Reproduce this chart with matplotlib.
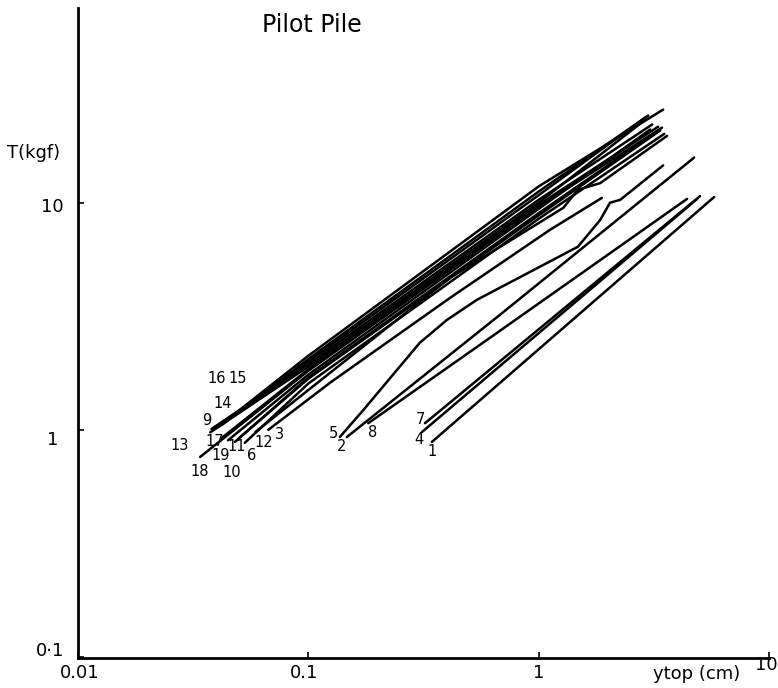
import numpy as np
import matplotlib
matplotlib.use("Agg")
import matplotlib.pyplot as plt

# load-displacement curves, ytop (cm) vs T (kgf)
curves = {
    "16": ([0.0406, 0.1, 1.0, 3.47], [1.03, 2.12, 11.8, 25.7]),
    "15": ([0.042, 0.1, 1.0, 2.99], [1.05, 2.05, 11.2, 24.2]),
    "14": ([0.0394, 0.1, 1.0, 2.90], [1.02, 2.0, 10.8, 23.7]),
    "9":  ([0.038, 0.1, 1.0, 3.11], [1.01, 1.95, 10.3, 22.1]),
    "13": ([0.0375, 0.1, 1.0, 2.76], [0.975, 1.9, 10.0, 22.3]),
    "17": ([0.042, 0.1, 1.0, 3.30], [0.92, 1.85, 9.8, 21.6]),
    "18": ([0.0339, 0.1, 1.0, 3.43], [0.76, 1.82, 9.6, 21.4]),
    "19": ([0.0448, 0.1, 1.0, 3.05], [0.90, 1.75, 9.4, 21.0]),
    "10": ([0.048, 0.1, 1.0, 3.20], [0.885, 1.7, 9.0, 20.3]),
    "11": ([0.05, 0.1, 1.0, 3.37], [0.92, 1.68, 8.8, 20.8]),
    "6":  ([0.053, 0.1, 1.0, 3.51], [0.877, 1.6, 8.5, 20.1]),
    "12": ([0.059, 0.412, 1.28, 1.48, 1.85, 3.61], [0.98, 4.67, 9.5, 11.4, 12.2, 19.7]),
    "3":  ([0.067, 0.124, 0.412, 1.12, 1.88], [1.0, 1.61, 3.81, 7.6, 10.5]),
    "5":  ([0.137, 0.173, 0.243, 0.305, 0.40, 0.54, 1.48, 1.85, 2.04, 2.26, 3.47],
           [0.93, 1.22, 1.84, 2.42, 3.05, 3.74, 6.4, 8.4, 10.0, 10.3, 14.6]),
    "2":  ([0.147, 0.679, 4.73], [0.93, 3.21, 15.8]),
    "8":  ([0.182, 0.679, 4.41], [1.07, 2.73, 10.4]),
    "7":  ([0.321, 5.02], [1.07, 10.7]),
    "4":  ([0.312, 4.88], [0.98, 10.4]),
    "1":  ([0.344, 5.78], [0.885, 10.6]),
}

# curve number labels (x, y) in data units
label_pos = {
    "16": (0.0402, 1.68), "15": (0.0495, 1.68), "14": (0.0426, 1.30),
    "9": (0.0363, 1.095), "13": (0.0277, 0.85), "17": (0.0392, 0.885),
    "19": (0.0418, 0.768), "18": (0.0339, 0.659), "10": (0.0467, 0.647),
    "11": (0.0488, 0.845), "6": (0.0568, 0.77), "12": (0.0640, 0.877),
    "3": (0.0750, 0.951), "5": (0.128, 0.96), "2": (0.139, 0.841),
    "8": (0.191, 0.97), "7": (0.308, 1.107), "4": (0.303, 0.91),
    "1": (0.344, 0.80),
}

xticks = [0.01, 0.1, 1, 10]
xtick_labels = ["0.01", "0.1", "1", "10"]
yticks = [0.1, 1, 10]
ytick_labels = ["0\u00b71", "1", "10"]

fig = plt.figure(figsize=(7.78, 6.88), dpi=100)
ax = fig.add_axes([78 / 778, 30 / 688, 691 / 778, 650 / 688])

for name, (xs, ys) in curves.items():
    ax.plot(xs, ys, color="black", lw=1.8, solid_capstyle="round",
            solid_joinstyle="round")

for name, (x, y) in label_pos.items():
    ax.text(x, y, name, fontsize=10.5, ha="center", va="center")

ax.set_xscale("log")
ax.set_yscale("log")
ax.set_xlim(0.01, 10)
ax.set_ylim(0.099, 72)
ax.minorticks_off()
ax.set_xticks(xticks)
ax.set_yticks(yticks)
ax.tick_params(direction="in", length=4, width=1.2,
               labelbottom=False, labelleft=False)
for s in ["top", "right"]:
    ax.spines[s].set_visible(False)
for s in ["left", "bottom"]:
    ax.spines[s].set_linewidth(2)

# tick labels placed by hand, as on the original drawing
xoff = [(2, -15), (-4, -15), (0, -15), (-3, -7)]
for t, lab, (dx, dy) in zip(xticks, xtick_labels, xoff):
    ax.annotate(lab, xy=(t, 0.099), xytext=(dx, dy), textcoords="offset pixels",
                ha="center", va="center", fontsize=13, annotation_clip=False)
yoff = [(-28, 6), (-25, -10), (-26, -4)]
for t, lab, (dx, dy) in zip(yticks, ytick_labels, yoff):
    ax.annotate(lab, xy=(0.01, t), xytext=(dx, dy), textcoords="offset pixels",
                ha="center", va="center", fontsize=13, annotation_clip=False)

fig.text(34 / 778, 1 - 153 / 688, "T(kgf)", fontsize=13, ha="center", va="center")
fig.text(697 / 778, 1 - 674 / 688, "ytop (cm)", fontsize=13, ha="center", va="center")
fig.text(312 / 778, 1 - 25 / 688, "Pilot Pile", fontsize=17, ha="center", va="center")

fig.savefig("out.png", dpi=100)
